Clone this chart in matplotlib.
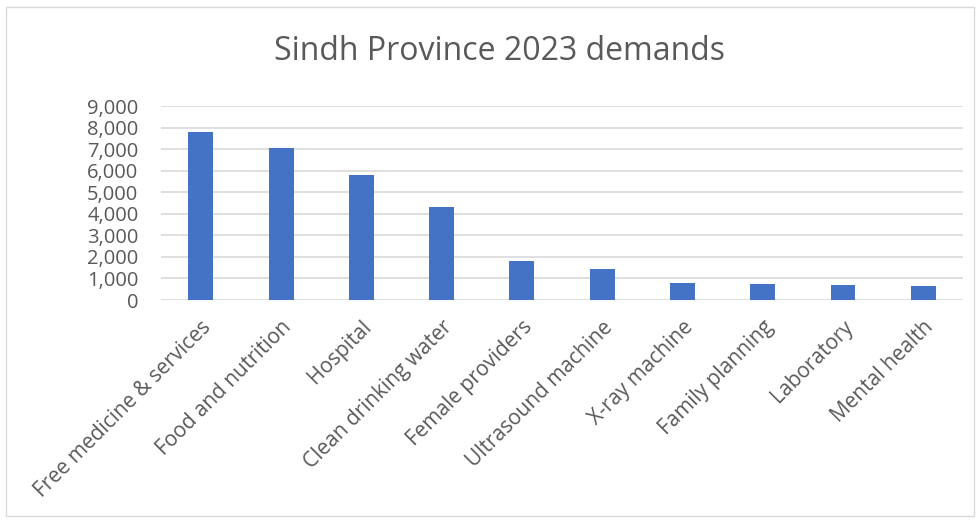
import numpy as np
import matplotlib.pyplot as plt
from matplotlib.patches import Rectangle
from matplotlib.ticker import FuncFormatter

categories = ['Free medicine & services', 'Food and nutrition', 'Hospital',
              'Clean drinking water', 'Female providers', 'Ultrasound machine',
              'X-ray machine', 'Family planning', 'Laboratory', 'Mental health']
demands = [7800, 7050, 5810, 4300, 1800, 1430, 780, 740, 720, 650]
y_ticks = [0, 1000, 2000, 3000, 4000, 5000, 6000, 7000, 8000, 9000]

TEXT = '#595959'
plt.rcParams['font.family'] = ['Open Sans', 'DejaVu Sans']

fig = plt.figure(figsize=(9.8, 5.2), dpi=100)
ax = fig.add_axes([0.164, 0.423, 0.819, 0.373])

# chart border like the spreadsheet chart area
fig.patches.append(Rectangle((0.006, 0.008), 0.988, 0.978, transform=fig.transFigure,
                             fill=False, edgecolor='#D9D9D9', linewidth=1))

x = np.arange(len(categories))
ax.bar(x, demands, width=0.31, color='#4472C4', zorder=3)

ax.set_xlim(-0.5, len(categories) - 0.5)
ax.set_ylim(0, 9000)
ax.set_yticks(y_ticks)
ax.yaxis.set_major_formatter(FuncFormatter(lambda v, p: '{:,.0f}'.format(v)))
ax.grid(axis='y', color='#D9D9D9', linewidth=1.2, zorder=0)
for s in ax.spines.values():
  s.set_visible(False)

ax.tick_params(axis='y', length=0, pad=16, labelsize=14.5, labelcolor=TEXT)
ax.tick_params(axis='x', length=0, pad=12, labelsize=15, labelcolor=TEXT)
ax.set_xticks(x)
ax.set_xticklabels(categories, rotation=45, ha='right', va='top', rotation_mode='anchor')

fig.text(0.51, 0.90, 'Sindh Province 2023 demands', ha='center', va='center',
         fontsize=23, color=TEXT)

fig.savefig('out.png', dpi=100)
